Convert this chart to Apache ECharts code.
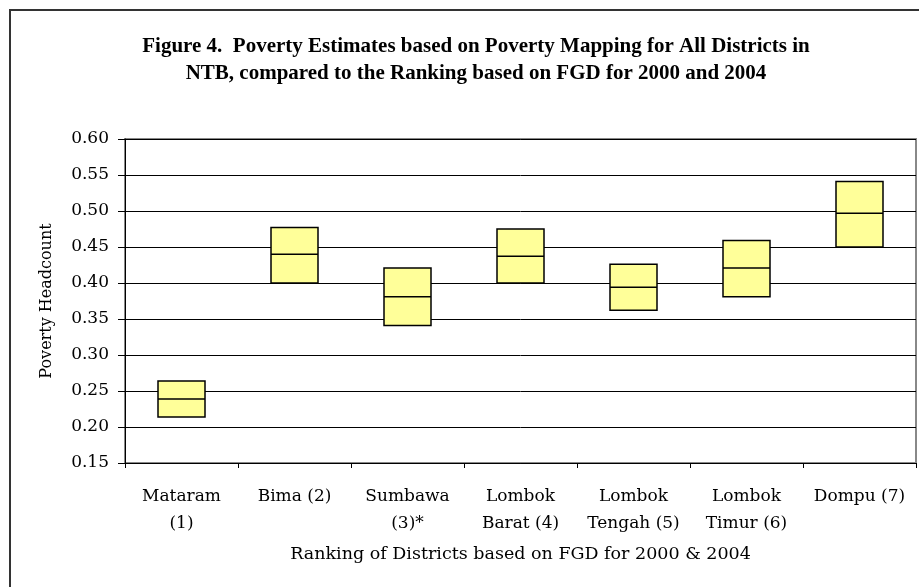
<!DOCTYPE html>
<html>
<head>
<meta charset="utf-8">
<script src="https://cdn.jsdelivr.net/npm/echarts@6/dist/echarts.min.js"></script>
<style>
  html, body { margin: 0; padding: 0; background: #fff; }
  #chart { width: 919px; height: 587px; }
</style>
</head>
<body>
<div id="chart"></div>
<script>
// districts, ranked by FGD
const districts = [
  "Mataram\n(1)", "Bima (2)", "Sumbawa\n(3)*", "Lombok\nBarat (4)",
  "Lombok\nTengah (5)", "Lombok\nTimur (6)", "Dompu (7)"
];
// poverty headcount estimates: lower bound, point estimate, upper bound
const lower = [0.214, 0.400, 0.341, 0.400, 0.362, 0.381, 0.450];
const estimate = [0.239, 0.440, 0.381, 0.437, 0.394, 0.421, 0.497];
const upper = [0.264, 0.477, 0.421, 0.475, 0.426, 0.459, 0.541];

const yTicks = { min: 0.15, max: 0.6, step: 0.05 };

const chart = echarts.init(document.getElementById("chart"));

const titleFont = "Liberation Serif";
const serif = "DejaVu Serif";

chart.setOption({
  animation: false,
  backgroundColor: "#fff",
  title: {
    text: "Figure 4.  Poverty Estimates based on Poverty Mapping for All Districts in\nNTB, compared to the Ranking based on FGD for 2000 and 2004",
    left: 471,
    top: 28,
    textAlign: "center",
    textStyle: {
      fontFamily: titleFont,
      fontWeight: "bold",
      fontSize: 21,
      lineHeight: 27,
      color: "#000"
    }
  },
  graphic: [
    {
      type: "rect",
      shape: { x: 10, y: 10, width: 940, height: 600 },
      style: { fill: "none", stroke: "#333", lineWidth: 2 },
      silent: true
    }
  ],
  grid: {
    left: 125,
    top: 139,
    width: 791,
    height: 324,
    show: true,
    borderColor: "#888",
    borderWidth: 2
  },
  xAxis: {
    type: "category",
    data: districts,
    name: "Ranking of Districts based on FGD for 2000 & 2004",
    nameLocation: "middle",
    nameGap: 82,
    nameTextStyle: { fontFamily: serif, fontSize: 17.5, color: "#000" },
    axisLine: { lineStyle: { color: "#000", width: 1 } },
    axisTick: { show: true, length: 5, lineStyle: { color: "#000" } },
    axisLabel: {
      interval: 0,
      margin: 20,
      fontFamily: serif,
      fontSize: 17,
      lineHeight: 27,
      color: "#000"
    },
    splitLine: { show: false }
  },
  yAxis: {
    type: "value",
    min: yTicks.min,
    max: yTicks.max,
    interval: yTicks.step,
    name: "Poverty Headcount",
    nameLocation: "middle",
    nameGap: 70,
    nameTextStyle: { fontFamily: serif, fontSize: 16, color: "#000" },
    axisLine: { show: true, lineStyle: { color: "#000", width: 1 } },
    axisTick: { show: true, length: 7, lineStyle: { color: "#000" } },
    axisLabel: {
      margin: 16,
      fontFamily: serif,
      fontSize: 17,
      color: "#000",
      formatter: v => v.toFixed(2)
    },
    splitLine: { show: true, lineStyle: { color: "#000", width: 1 } }
  },
  series: [
    {
      type: "boxplot",
      boxWidth: [47, 47],
      itemStyle: { color: "#ffff99", borderColor: "#000", borderWidth: 1.5 },
      data: districts.map((d, i) => [lower[i], lower[i], estimate[i], upper[i], upper[i]])
    }
  ]
});
</script>
</body>
</html>
